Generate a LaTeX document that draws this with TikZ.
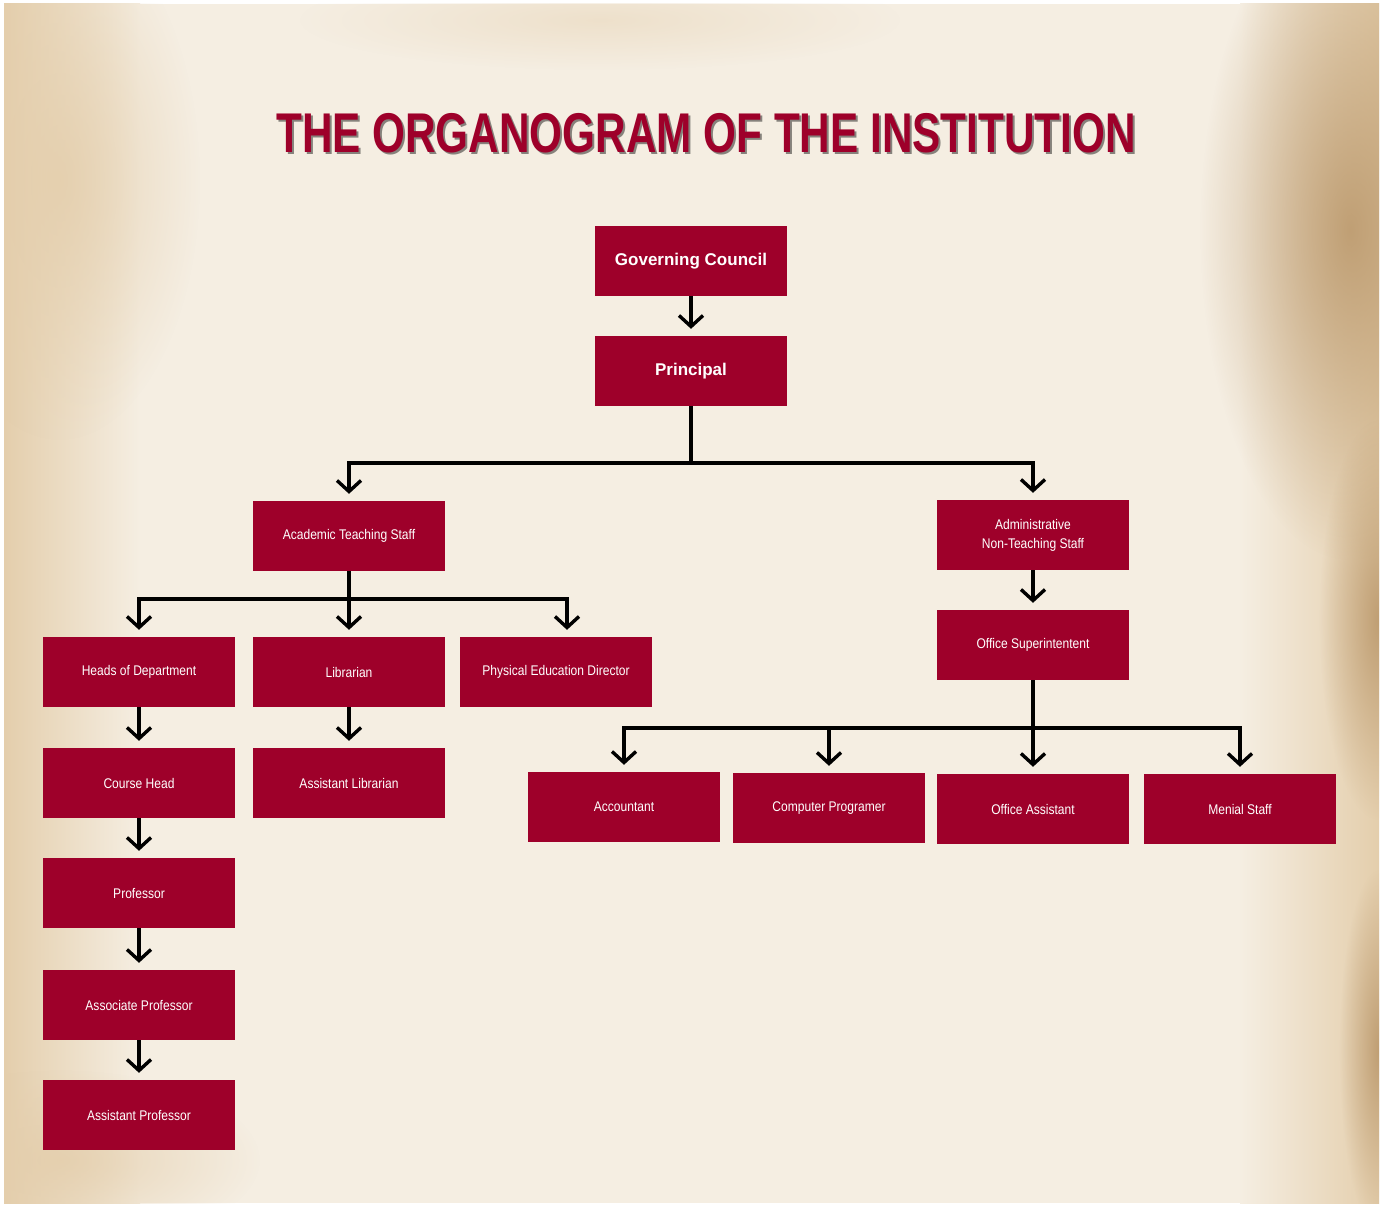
\documentclass[tikz,border=0pt]{standalone}
\usepackage{fontspec}
\setmainfont{Liberation Sans}
\usetikzlibrary{arrows.meta,fadings}
\definecolor{crimson}{RGB}{158,0,42}
\definecolor{parch}{RGB}{245,238,226}
\definecolor{parchside}{RGB}{228,206,172}
\definecolor{parchdark}{RGB}{185,150,105}
\tikzfading[name=blot, inner color=transparent!15, outer color=transparent!100]
\newcommand{\lbl}[1]{\scalebox{0.86}[1]{#1}}
\newcommand{\titletxt}{\scalebox{0.755}[1]{\fontsize{56}{56}\selectfont\bfseries THE ORGANOGRAM OF THE INSTITUTION}}
\begin{document}
\begin{tikzpicture}[x=1pt,y=-1pt,
  post/.style={fill=crimson, text=white, minimum width=192pt, minimum height=70pt, inner sep=0pt, font=\fontsize{14}{19}\selectfont},
  chief/.style={post, font=\fontsize{17}{20}\selectfont\bfseries},
  link/.style={line width=3.4pt, black},
  arr/.style={link, -{Straight Barb[length=11pt,width=24pt]}, shorten >=7pt}]
% paper
\useasboundingbox (0,0) rectangle (1383,1207);
\fill[white] (0,0) rectangle (1383,1207);
\fill[parch] (4,4) rectangle (1379,1203);
\shade[left color=parchside, right color=parch] (4,4) rectangle (140,1203);
\shade[left color=parch, right color=parchside] (1240,4) rectangle (1379,1203);
\begin{scope}
\clip (4,4) rectangle (1379,1203);
\fill[parchdark, path fading=blot] (1350,230) ellipse (150 and 330);
\fill[parchdark, path fading=blot] (1379,620) ellipse (60 and 200);
\fill[parchdark, path fading=blot] (1379,1050) ellipse (40 and 180);
\fill[parchside, path fading=blot] (60,180) ellipse (140 and 260);
\fill[parchside, path fading=blot, opacity=0.5] (600,20) ellipse (300 and 50);
\fill[parchside, path fading=blot] (60,1160) ellipse (200 and 90);
\end{scope}
% title
\node[text=black, opacity=0.45] at (708,135) {\titletxt};
\node[text=crimson] (title) at (706,133) {\titletxt};
% posts
\node[chief] (gc) at (691,261) {Governing Council};
\node[chief] (pr) at (691,371) {Principal};
\node[post] (ats) at (349,536) {\lbl{Academic Teaching Staff}};
\node[post] (ants) at (1033,535) {\lbl{\begin{tabular}{@{}c@{}}Administrative\\Non-Teaching Staff\end{tabular}}};
\node[post] (os) at (1033,645) {\lbl{Office Superintentent}};
\node[post] (hod) at (139,672) {\lbl{Heads of Department}};
\node[post] (lib) at (349,672) {\lbl{Librarian}};
\node[post] (ped) at (556,672) {\lbl{Physical Education Director}};
\node[post] (ch) at (139,783) {\lbl{Course Head}};
\node[post] (al) at (349,783) {\lbl{Assistant Librarian}};
\node[post] (prof) at (139,893) {\lbl{Professor}};
\node[post] (asp) at (139,1005) {\lbl{Associate Professor}};
\node[post] (astp) at (139,1115) {\lbl{Assistant Professor}};
\node[post] (acc) at (624,807) {\lbl{Accountant}};
\node[post] (cp) at (829,808) {\lbl{Computer Programer}};
\node[post] (oa) at (1033,809) {\lbl{Office Assistant}};
\node[post] (ms) at (1240,809) {\lbl{Menial Staff}};
% junctions
\coordinate (j1) at (691,463);
\coordinate (j2) at (349,599);
\coordinate (j3) at (1033,728);
% links
\draw[arr] (gc) -- (pr);
\draw[link] (pr) -- (j1);
\draw[arr] (j1) -| (ats);
\draw[arr] (j1) -| (ants);
\draw[arr] (ats) -- (lib);
\draw[arr] (j2) -| (hod);
\draw[arr] (j2) -| ([xshift=11pt]ped.north);
\draw[arr] (hod) -- (ch);
\draw[arr] (ch) -- (prof);
\draw[arr] (prof) -- (asp);
\draw[arr] (asp) -- (astp);
\draw[arr] (lib) -- (al);
\draw[arr] (ants) -- (os);
\draw[arr] (os) -- (oa);
\draw[arr] (j3) -| (acc);
\draw[arr] (j3) -| (cp);
\draw[arr] (j3) -| (ms);
\end{tikzpicture}
\end{document}
